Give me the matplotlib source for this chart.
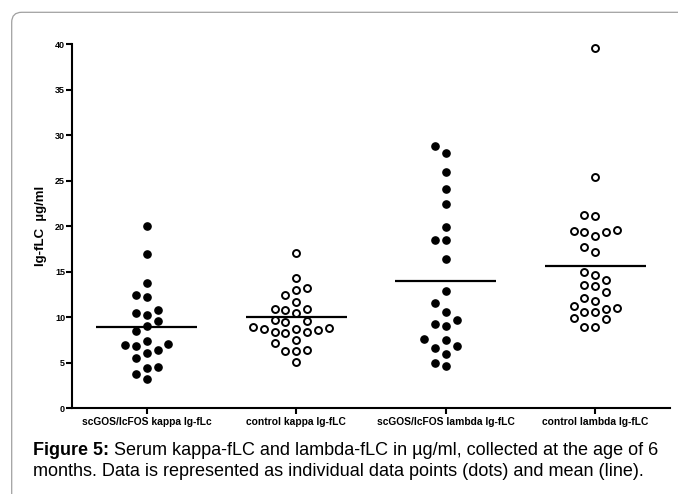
#!/usr/bin/env python3
# -*- coding: utf-8 -*-
import numpy as np
import matplotlib
matplotlib.use("Agg")
import matplotlib.pyplot as plt
from matplotlib.patches import FancyBboxPatch

plt.rcParams['font.family'] = ['Liberation Sans', 'DejaVu Sans']

# data (ug/ml)
group_names = ["scGOS/lcFOS kappa Ig-fLc", "control kappa Ig-fLC",
               "scGOS/lcFOS lambda Ig-fLC", "control lambda Ig-fLC"]
kappa_scgos = [20.0, 16.9, 13.8, 12.2, 12.45, 10.83, 10.25, 10.5, 9.62, 9.03, 8.52,
               7.05, 7.38, 6.97, 6.79, 6.39, 6.06, 5.51, 4.55, 4.36, 3.75, 3.19]
kappa_control = [17.1, 14.3, 13.0, 13.2, 12.45, 11.64, 10.42, 10.91, 10.8, 10.87,
                 9.62, 9.43, 9.65, 8.82, 8.66, 8.33, 8.22, 8.33, 8.6, 8.7, 8.96,
                 7.49, 7.12, 6.39, 6.31, 6.24, 5.1]
lambda_scgos = [28.8, 28.0, 25.96, 24.13, 22.4, 19.9, 18.44, 18.44, 16.42, 12.85,
                11.53, 10.53, 9.26, 8.99, 9.73, 7.49, 7.6, 6.79, 6.61, 5.95, 4.66, 4.91]
lambda_control = [39.6, 25.38, 21.19, 21.08, 19.54, 19.35, 18.88, 19.35, 19.46, 17.7,
                  17.15, 14.99, 14.58, 14.03, 13.55, 13.37, 12.74, 12.08, 11.79, 11.05,
                  10.61, 10.61, 10.94, 11.24, 9.76, 9.92, 8.88, 8.88]
group_means = [8.95, 10.0, 13.95, 15.65]
y_ticks = [0, 5, 10, 15, 20, 25, 30, 35, 40]

all_groups = [kappa_scgos, kappa_control, lambda_scgos, lambda_control]
filled = [True, False, True, False]


def swarm_x(values, center, slot, ypx=9.1, slot_px=10.8, min_dist=10.5):
    # greedy slot placement like a prism dot plot, lowest values first
    values = np.asarray(values)
    cand = [0]
    for n in range(1, 20):
        cand += [-n, n]
    placed = []
    xs = np.zeros(len(values))
    for i in np.argsort(values):
        y = values[i] * ypx
        for s in cand:
            ok = True
            for s2, y2 in placed:
                if np.hypot((s - s2) * slot_px, y - y2) < min_dist:
                    ok = False
                    break
            if ok:
                break
        placed.append((s, y))
        xs[i] = center + s * slot
    return xs


fig = plt.figure(figsize=(6.78, 4.94), dpi=100)

# rounded frame around the figure
frame = FancyBboxPatch((0.117, -0.3), 7.2, 5.117, boxstyle="round,pad=0,rounding_size=0.1",
                       transform=fig.dpi_scale_trans, facecolor="none",
                       edgecolor="#a0a0a0", linewidth=0.9)
fig.patches.append(frame)

ax = fig.add_axes([72 / 678, 1 - 408 / 494, (670 - 72) / 678, (408 - 44.3) / 494])

for i, vals in enumerate(all_groups):
    xs = swarm_x(vals, i, 10.8 / 149.5)
    if filled[i]:
        ax.plot(xs, vals, 'o', ms=5.2, mfc='black', mec='black', mew=1.0, zorder=3)
    else:
        ax.plot(xs, vals, 'o', ms=5.0, mfc='white', mec='black', mew=1.4, zorder=3)
    ax.hlines(group_means[i], i - 0.338, i + 0.338, colors='black', lw=1.6, zorder=2)

ax.set_xlim(-0.5, 3.5)
ax.set_ylim(0, 40)
ax.set_yticks(y_ticks)
ax.set_yticklabels([str(t) for t in y_ticks], fontsize=6.5, fontweight='bold')
ax.set_xticks(range(len(group_names)))
ax.set_xticklabels(group_names, fontsize=7.4, fontweight='bold')
ax.spines['top'].set_visible(False)
ax.spines['right'].set_visible(False)
ax.spines['left'].set_linewidth(1.5)
ax.spines['bottom'].set_linewidth(1.5)
ax.tick_params(axis='y', length=4, width=1.5, pad=1)
ax.tick_params(axis='x', length=4.5, width=1.5, pad=2)
ax.set_ylabel("Ig-fLC  µg/ml", fontsize=9.5, fontweight='bold')
ax.yaxis.set_label_coords(-0.042, 0.5)

# caption, bold label followed by plain text
renderer = fig.canvas.get_renderer()
cap_size = 13
t1 = fig.text(33 / 678, 1 - 450 / 494, "Figure 5:", fontsize=cap_size,
              fontweight='bold', va='center', ha='left')
bb = t1.get_window_extent(renderer)
fig.text(bb.x1 / 678, 1 - 450 / 494,
         " Serum kappa-fLC and lambda-fLC in µg/ml, collected at the age of 6",
         fontsize=cap_size, va='center', ha='left')
fig.text(33 / 678, 1 - 471 / 494,
         "months. Data is represented as individual data points (dots) and mean (line).",
         fontsize=cap_size, va='center', ha='left')

fig.savefig("out.png", dpi=100)
